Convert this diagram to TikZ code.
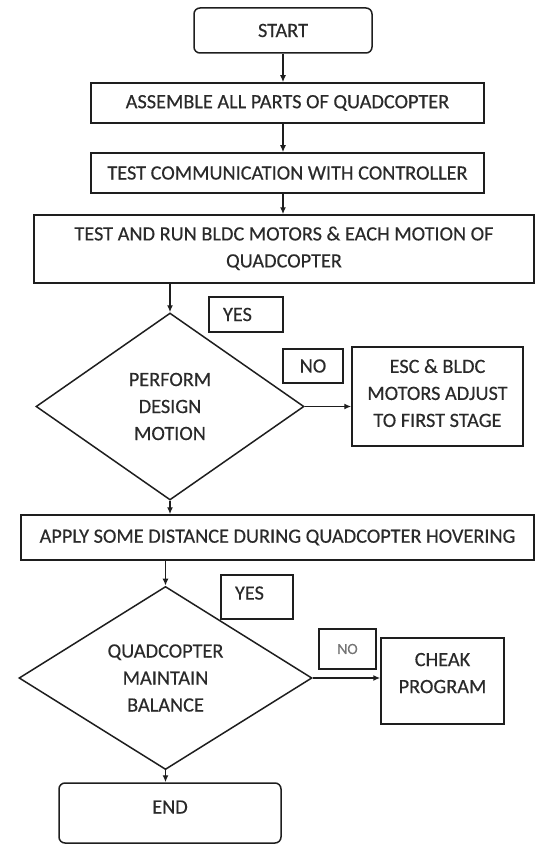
\documentclass[tikz,border=0pt]{standalone}
\usepackage{fontspec}
\setmainfont[FakeBold=0.35]{Carlito}
\usetikzlibrary{shapes.geometric,arrows.meta}

\definecolor{ink}{HTML}{1E1E1E}
\definecolor{txt}{HTML}{2A2A2A}

\tikzset{
  base/.style={draw=ink, line width=1.5pt, inner sep=0pt, align=center,
    text=txt, font=\fontsize{20.3}{27}\selectfont},
  procbox/.style={base, rectangle},
  termbox/.style={base, rectangle, rounded corners=6pt},
  decision/.style={base, diamond},
  tagbox/.style={base, rectangle, align=left},
  arr/.style={draw=ink, line width=1.5pt, -{Latex[length=7pt,width=6pt]}}
}

\begin{document}
\begin{tikzpicture}[x=1pt,y=-1pt]
\useasboundingbox (0,0) rectangle (541,845);

% main column
\node[termbox, minimum width=178pt, minimum height=45pt] (start) at (283,30.5) {START};
\node[procbox, minimum width=393pt, minimum height=40pt] (b2) at (287.5,103) {ASSEMBLE ALL PARTS OF QUADCOPTER};
\node[procbox, minimum width=393pt, minimum height=40pt] (b3) at (287.5,173) {TEST COMMUNICATION WITH CONTROLLER};
\node[procbox, minimum width=500pt, minimum height=68pt, text depth=4pt] (b4) at (284,249)
  {TEST AND RUN BLDC MOTORS \& EACH MOTION OF\\QUADCOPTER};

% first decision
\node[decision, minimum width=268pt, minimum height=187pt] (d1) at (170,406.5)
  {PERFORM\\DESIGN\\MOTION};
\node[tagbox, minimum height=35pt, text width=46pt, inner xsep=14pt] (yes1) at (246,314.5) {YES};
\node[procbox, minimum width=60pt, minimum height=34pt] (no1) at (313,366) {NO};
\node[procbox, minimum width=171pt, minimum height=99pt, text depth=7pt] (esc) at (437.5,396.5)
  {ESC \& BLDC\\MOTORS ADJUST\\TO FIRST STAGE};

\node[procbox, minimum width=513pt, minimum height=45pt] (apply) at (277.5,537.5)
  {APPLY SOME DISTANCE DURING QUADCOPTER HOVERING};

% second decision
\node[decision, minimum width=293pt, minimum height=178pt] (d2) at (165.5,678)
  {QUADCOPTER\\MAINTAIN\\BALANCE};
\node[tagbox, minimum height=44pt, text width=44pt, inner xsep=14pt, text depth=8pt] (yes2) at (257,597) {YES};
\node[procbox, minimum width=57pt, minimum height=40pt, text=txt!65,
  font=\fontsize{15.5}{18}\selectfont] (no2) at (347.5,649) {NO};
\node[procbox, minimum width=123pt, minimum height=86pt, text depth=16pt] (cheak) at (442.5,681)
  {CHEAK\\PROGRAM};

\node[termbox, minimum width=222pt, minimum height=60pt, text depth=12pt] (end) at (170,813) {END};

% connectors
\draw[arr] (start.south) -- (start.south |- b2.north);
\draw[arr] (b2.south -| start.south) -- (b3.north -| start.south);
\draw[arr] (b3.south -| start.south) -- (b4.north -| start.south);
\draw[arr] (b4.south -| d1.north) -- (d1.north);
\draw[arr] (d1.east) -- (d1.east -| esc.west);
\draw[arr] (d1.south) -- (d1.south |- apply.north);
\draw[arr] (apply.south -| d2.north) -- (d2.north);
\draw[arr] (d2.east) -- (d2.east -| cheak.west);
\draw[arr] (d2.south) -- (d2.south |- end.north);
\end{tikzpicture}
\end{document}
